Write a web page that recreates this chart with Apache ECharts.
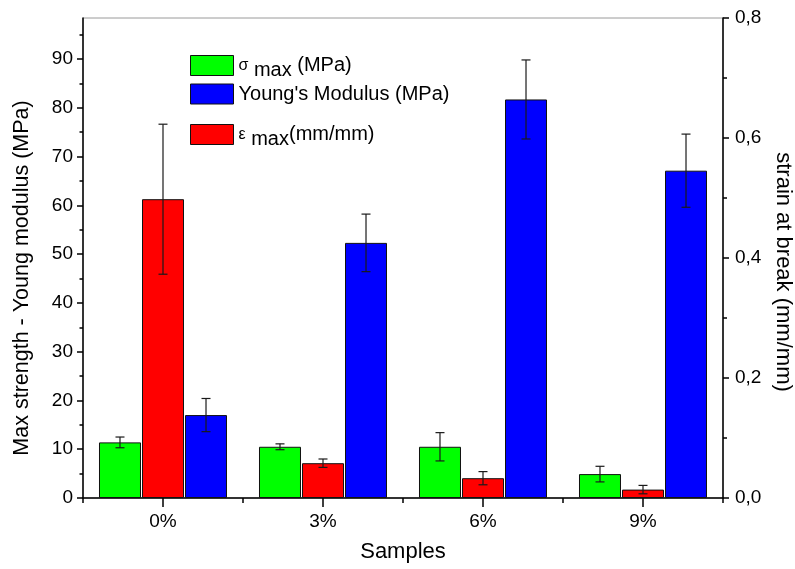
<!DOCTYPE html>
<html>
<head>
<meta charset="utf-8">
<script src="https://cdn.jsdelivr.net/npm/echarts@6/dist/echarts.min.js"></script>
<style>
  html, body { margin: 0; padding: 0; background: #fff; }
  #chart { width: 795px; height: 569px; }
</style>
</head>
<body>
<div id="chart"></div>
<script>
// Sample groups (filler content)
const SAMPLES = ['0%', '3%', '6%', '9%'];

// Maximum strength (MPa) and its standard deviation
const SIGMA_MAX = [11.4, 10.5, 10.5, 4.9];
const SIGMA_ERR = [1.1, 0.6, 2.9, 1.6];

// Young's modulus (MPa) and its standard deviation
const YOUNG = [17.0, 52.3, 81.7, 67.1];
const YOUNG_ERR = [3.4, 5.9, 8.1, 7.5];

// Strain at break (mm/mm) and its standard deviation
const STRAIN = [0.498, 0.058, 0.033, 0.014];
const STRAIN_ERR = [0.125, 0.007, 0.011, 0.007];

// Axis ticks
const LEFT_TICKS = [0, 10, 20, 30, 40, 50, 60, 70, 80, 90];
const LEFT_MINOR = [5, 15, 25, 35, 45, 55, 65, 75, 85, 95];
const RIGHT_MAX = 0.8;
const LEFT_MAX = 98.4;

const FONT = 'Liberation Sans, Arial, Helvetica, sans-serif';
const BAR_FRAC = 0.2625;   // bar width as a share of the category band
const BAR_GAP = 0.024;     // gap between bars as a share of bar width

const chart = echarts.init(document.getElementById('chart'), null, { renderer: 'canvas' });

function errorSeries(values, errs, slot, yAxisIndex) {
  return {
    type: 'custom',
    xAxisIndex: 0,
    yAxisIndex: yAxisIndex,
    z: 5,
    silent: true,
    data: values.map((v, i) => [i, v, errs[i]]),
    renderItem: function (params, api) {
      const i = api.value(0), v = api.value(1), e = api.value(2);
      const band = api.size([1, 0])[0];
      const hi = api.coord([i, v + e]);
      const lo = api.coord([i, v - e]);
      const x = hi[0] + slot * BAR_FRAC * (1 + BAR_GAP) * band;
      const cap = 4.5;
      const style = { stroke: '#1a1a1a', lineWidth: 1.2 };
      return {
        type: 'group',
        children: [
          { type: 'line', shape: { x1: x, y1: hi[1], x2: x, y2: lo[1] }, style: style },
          { type: 'line', shape: { x1: x - cap, y1: hi[1], x2: x + cap, y2: hi[1] }, style: style },
          { type: 'line', shape: { x1: x - cap, y1: lo[1], x2: x + cap, y2: lo[1] }, style: style }
        ]
      };
    }
  };
}

const barCommon = {
  type: 'bar',
  xAxisIndex: 0,
  barWidth: (BAR_FRAC * 100) + '%',
  barGap: (BAR_GAP * 100) + '%',
  itemStyle: { borderColor: '#111', borderWidth: 1 }
};

// Legend text: Greek symbol, subscripted "max", unit
const richLegend = {
  g: { fontSize: 16, lineHeight: 30, verticalAlign: 'middle', fontFamily: FONT, color: '#000' },
  sub: { fontSize: 20, lineHeight: 21, verticalAlign: 'bottom', fontFamily: FONT, color: '#000' },
  t: { fontSize: 20, lineHeight: 30, verticalAlign: 'middle', fontFamily: FONT, color: '#000' }
};

function legendLabel(name) {
  if (name === 'sigma') return '{g|σ}{sub| max}{t| (MPa)}';
  if (name === 'young') return "{t|Young's Modulus (MPa)}";
  return '{g|ε}{sub| max}{t|(mm/mm)}';
}

const legendCommon = {
  left: 190,
  orient: 'vertical',
  padding: 0,
  itemWidth: 43, itemHeight: 20, itemGap: 3,
  icon: 'rect',
  selectedMode: false,
  itemStyle: { borderColor: '#111', borderWidth: 1 },
  textStyle: { fontSize: 20, fontFamily: FONT, color: '#000', rich: richLegend },
  formatter: legendLabel
};

const option = {
  animation: false,
  backgroundColor: '#fff',
  textStyle: { fontFamily: FONT, color: '#000' },
  grid: {
    left: 83, right: 72, top: 18, bottom: 71,
    outerBoundsMode: 'none',
    containLabel: false,
    show: true, borderColor: '#9a9a9a', borderWidth: 1, backgroundColor: 'transparent'
  },
  legend: [
    Object.assign({}, legendCommon, { top: 55, data: ['sigma', 'young'] }),
    Object.assign({}, legendCommon, { top: 124, data: ['strain'] })
  ],
  xAxis: [
    {
      type: 'category',
      data: SAMPLES,
      position: 'bottom',
      axisLine: { show: true, lineStyle: { color: '#000', width: 1.5 } },
      axisTick: { show: true, alignWithLabel: true, length: 9, lineStyle: { color: '#000', width: 1.5 } },
      axisLabel: { fontSize: 19, margin: 14, color: '#000', fontFamily: FONT },
      splitLine: { show: false },
      name: 'Samples',
      nameLocation: 'middle',
      nameGap: 43,
      nameTextStyle: { fontSize: 22, color: '#000', fontFamily: FONT }
    },
    {
      type: 'category',
      data: SAMPLES,
      position: 'bottom',
      axisLine: { show: false },
      axisTick: { show: true, length: 5, lineStyle: { color: '#000', width: 1.5 } },
      axisLabel: { show: false },
      splitLine: { show: false }
    }
  ],
  yAxis: [
    {
      type: 'value',
      position: 'left',
      min: 0, max: LEFT_MAX, interval: 10,
      axisLine: { show: true, lineStyle: { color: '#000', width: 1.5 } },
      axisTick: { show: true, length: 6, customValues: LEFT_TICKS, lineStyle: { color: '#000', width: 1.5 } },
      axisLabel: { customValues: LEFT_TICKS, fontSize: 19, margin: 10, color: '#000', fontFamily: FONT },
      splitLine: { show: false },
      name: 'Max strength - Young modulus (MPa)',
      nameLocation: 'middle',
      nameGap: 50,
      nameTextStyle: { fontSize: 21.5, color: '#000', fontFamily: FONT, padding: [0, 40, 0, 0] }
    },
    {
      type: 'value',
      position: 'right',
      min: 0, max: RIGHT_MAX, interval: 0.2,
      axisLine: { show: true, lineStyle: { color: '#000', width: 1.5 } },
      axisTick: { show: true, length: 6, lineStyle: { color: '#000', width: 1.5 } },
      minorTick: { show: true, splitNumber: 2, length: 4, lineStyle: { color: '#000', width: 1.5 } },
      axisLabel: {
        fontSize: 19, margin: 12, color: '#000', fontFamily: FONT,
        formatter: v => v.toFixed(1).replace('.', ',')
      },
      splitLine: { show: false },
      minorSplitLine: { show: false },
      name: 'strain at break (mm/mm)',
      nameLocation: 'middle',
      nameRotate: -90,
      nameGap: 46,
      nameTextStyle: { fontSize: 22, color: '#000', fontFamily: FONT, padding: [0, 0, 0, 28] }
    },
    {
      type: 'value',
      position: 'left',
      min: 0, max: LEFT_MAX,
      axisLine: { show: false },
      axisTick: { show: true, length: 3.5, customValues: LEFT_MINOR, lineStyle: { color: '#000', width: 1.5 } },
      axisLabel: { show: false },
      splitLine: { show: false }
    }
  ],
  series: [
    Object.assign({}, barCommon, { name: 'sigma', yAxisIndex: 0, data: SIGMA_MAX, itemStyle: Object.assign({ color: '#00ff00' }, barCommon.itemStyle) }),
    Object.assign({}, barCommon, { name: 'strain', yAxisIndex: 1, data: STRAIN, itemStyle: Object.assign({ color: '#ff0000' }, barCommon.itemStyle) }),
    Object.assign({}, barCommon, { name: 'young', yAxisIndex: 0, data: YOUNG, itemStyle: Object.assign({ color: '#0000ff' }, barCommon.itemStyle) }),
    errorSeries(SIGMA_MAX, SIGMA_ERR, -1, 0),
    errorSeries(STRAIN, STRAIN_ERR, 0, 1),
    errorSeries(YOUNG, YOUNG_ERR, 1, 0)
  ]
};

chart.setOption(option);
</script>
</body>
</html>
